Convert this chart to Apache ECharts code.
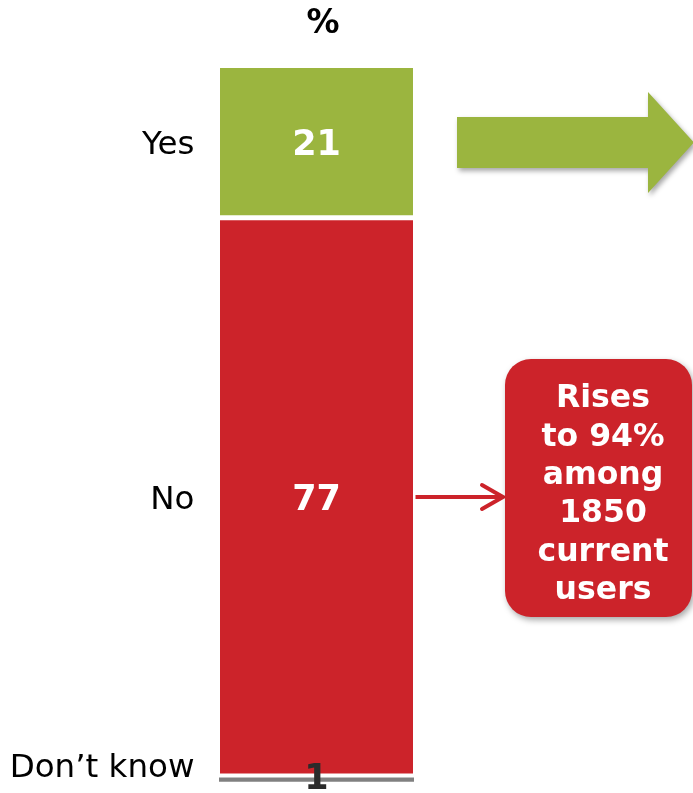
<!DOCTYPE html>
<html>
<head>
<meta charset="utf-8">
<script src="https://cdn.jsdelivr.net/npm/echarts@6/dist/echarts.min.js"></script>
<style>
html,body{margin:0;padding:0;background:#fff;}
#chart{width:693px;height:793px;}
</style>
</head>
<body>
<div id="chart"></div>
<script>
const categories = ['Yes', 'No', 'Don\u2019t know'];
const values = [21, 77, 1];
const colors = ['#9BB53F', '#CC232A', '#808080'];
const labelColors = ['#ffffff', '#ffffff', '#2b2b2b'];
const headerText = '%';
const calloutLines = ['Rises', 'to 94%', 'among', '1850', 'current', 'users'];

const chart = echarts.init(document.getElementById('chart'), null, {renderer: 'canvas'});
const total = values.reduce((a, b) => a + b, 0);

let cum = 0;
const series = categories.map((name, i) => {
  const mid = cum + values[i] / 2;
  cum += values[i];
  const isLast = i === categories.length - 1;
  return {
    name: name,
    type: 'bar',
    stack: 'total',
    barWidth: '100%',
    data: [values[i]],
    itemStyle: {color: colors[i], borderColor: '#ffffff', borderWidth: isLast ? 1.5 : 2.5},
    label: {
      show: true,
      position: 'inside',
      offset: isLast ? [0, 0] : [0, 4],
      color: labelColors[i],
      fontFamily: 'DejaVu Sans',
      fontWeight: 'bold',
      fontSize: 35,
      formatter: '{c}'
    },
    markPoint: {
      symbol: 'circle',
      symbolSize: 0,
      silent: true,
      data: [{
        coord: ['all', mid],
        value: name,
        label: {
          show: true,
          position: 'left',
          distance: 122,
          offset: isLast ? [0, -11] : [0, 4],
          formatter: name,
          color: '#000',
          fontFamily: 'DejaVu Sans',
          fontSize: 32.5
        }
      }]
    },
    z: 2
  };
});

const option = {
  animation: false,
  backgroundColor: '#ffffff',
  grid: {left: 217.5, width: 198, top: 65.5, bottom: 9.75},
  xAxis: {type: 'category', data: ['all'], show: false},
  yAxis: {type: 'value', min: 0, max: total, inverse: true, show: false},
  series: series,
  graphic: [
    {
      type: 'text', x: 323, y: 24,
      style: {text: headerText, fontFamily: 'DejaVu Sans', fontWeight: 'bold', fontSize: 33, fill: '#000', align: 'center', verticalAlign: 'middle'}
    },
    {
      type: 'polygon',
      shape: {points: [[457,117],[648,117],[648,92],[694,142.5],[648,193],[648,168],[457,168]]},
      style: {fill: '#9BB53F', shadowBlur: 5, shadowOffsetX: 2, shadowOffsetY: 3, shadowColor: 'rgba(0,0,0,0.35)'}
    },
    {
      type: 'line',
      shape: {x1: 415, y1: 497, x2: 502, y2: 497},
      style: {stroke: '#CC232A', lineWidth: 4}
    },
    {
      type: 'polyline',
      shape: {points: [[482,485],[503,497],[482,509]]},
      style: {stroke: '#CC232A', lineWidth: 4, fill: null, lineCap: 'round', lineJoin: 'miter'}
    },
    {
      type: 'rect',
      shape: {x: 505, y: 359, width: 187, height: 258, r: 26},
      style: {fill: '#CC232A', shadowBlur: 6, shadowOffsetX: 2, shadowOffsetY: 3, shadowColor: 'rgba(0,0,0,0.35)'}
    },
    {
      type: 'text',
      x: 603, y: 495,
      style: {
        text: calloutLines.join('\n'),
        fontFamily: 'DejaVu Sans', fontWeight: 'bold', fontSize: 31.5, lineHeight: 38.4,
        fill: '#ffffff', align: 'center', verticalAlign: 'middle'
      }
    }
  ]
};
chart.setOption(option);
</script>
</body>
</html>
